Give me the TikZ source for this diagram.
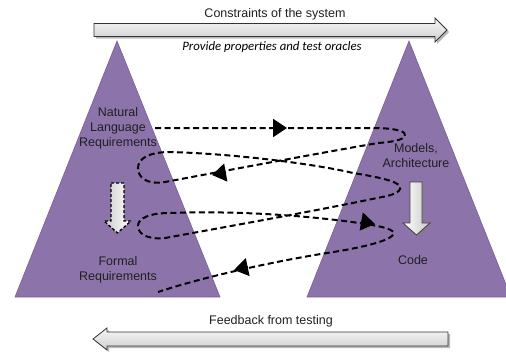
\documentclass[tikz,border=0pt]{standalone}
\usepackage{fontspec}
\setmainfont{Liberation Sans}
\newfontfamily\calibri{Carlito}
\usetikzlibrary{arrows.meta}
\definecolor{tri}{RGB}{140,116,170}
\definecolor{triedge}{RGB}{118,96,152}
\begin{document}
\begin{tikzpicture}[x=1pt,y=-1pt,
  lbl/.style={font=\fontsize{12.5}{15}\selectfont, text=black!88, align=center, inner sep=0pt},
  spiral/.style={line width=2pt, dash pattern=on 6pt off 3.5pt},
  tipstyle/.style={-{Triangle[length=14pt,width=18pt]}, line width=2pt},
  bigarrow/.style={draw=black!80, line width=0.8pt, top color=gray!6, bottom color=gray!38},
  shadowc/.style={fill=black!50, opacity=0.55},
  trishape/.style={fill=tri, draw=triedge, line width=0.6pt}
]
\useasboundingbox (0,0) rectangle (506,354);
% triangles
\path[trishape] (15,297) -- (117,41) -- (220,297) -- cycle;
\path[trishape] (307,297) -- (409,41) -- (511,297) -- cycle;

% top arrow
\fill[shadowc] (96,25.5) -- (437,25.5) -- (437,20) -- (449,32) -- (437,44) -- (437,38.5) -- (96,38.5) -- cycle;
\node[font=\calibri\itshape\fontsize{12.8}{14}\selectfont, fill=white, inner xsep=14pt, inner ysep=3pt] (prov) at (272,47) {Provide properties and test oracles};
\path[bigarrow] (94,23.5) -- (435,23.5) -- (435,18) -- (447,30) -- (435,42) -- (435,36.5) -- (94,36.5) -- cycle;
\node[lbl] (cons) at (275,14) {Constraints of the system};

% bottom arrow
\fill[shadowc] (95,341) -- (109,330) -- (109,334) -- (450,334) -- (450,348) -- (109,348) -- (109,352) -- cycle;
\path[bigarrow] (93,339) -- (107,328) -- (107,332) -- (448,332) -- (448,346) -- (107,346) -- (107,350) -- cycle;
\node[lbl] (feed) at (271,321) {Feedback from testing};

% labels
\node[lbl] (nl) at (118,128) {Natural\\Language\\Requirements};
\node[lbl] (fr) at (118,269.5) {Formal\\Requirements};
\node[lbl] (ma) at (416,155.5) {Models,\\Architecture};
\node[lbl] (code) at (413,260) {Code};

% vertical arrows
\path[draw=black, line width=1.3pt, dash pattern=on 3pt off 2pt, left color=gray!40, right color=white]
  (111,183) -- (124,183) -- (124,221) -- (131,221) -- (117.5,233) -- (104,221) -- (111,221) -- cycle;
\fill[shadowc] (412,184) -- (424,184) -- (424,225) -- (432,225) -- (418.5,237) -- (405,225) -- (412,225) -- cycle;
\path[draw=black!75, line width=0.8pt, left color=white, right color=gray!45]
  (410,182) -- (422,182) -- (422,223) -- (430,223) -- (416.5,235) -- (403,223) -- (410,223) -- cycle;

% spiral
\draw[spiral] (155,128) -- (372,128)
  .. controls (398,128) and (407,132) .. (405,136)
  .. controls (403,140) and (392,142) .. (378,143)
  .. controls (320,153) and (240,168) .. (165,182)
  .. controls (146,185) and (138,177) .. (138,168)
  .. controls (138,158) and (150,152) .. (170,152)
  .. controls (240,154) and (320,165) .. (353,173)
  .. controls (385,178) and (403,183) .. (400,189)
  .. controls (398,194) and (388,196) .. (377,198)
  .. controls (320,210) and (220,228) .. (165,238)
  .. controls (146,240) and (138,233) .. (138,226)
  .. controls (138,218) and (150,213) .. (170,213)
  .. controls (250,210) and (330,218) .. (372,225)
  .. controls (395,229) and (396,233) .. (392,236)
  .. controls (385,242) and (360,248) .. (327,253)
  .. controls (270,262) and (200,278) .. (158,292);
\draw[tipstyle] (273,128) -- (287,128);
\draw[tipstyle] (226,172.5) -- (212,175);
\draw[tipstyle] (361,221.5) -- (375,224);
\draw[tipstyle] (248,267) -- (234,270);
\end{tikzpicture}
\end{document}
